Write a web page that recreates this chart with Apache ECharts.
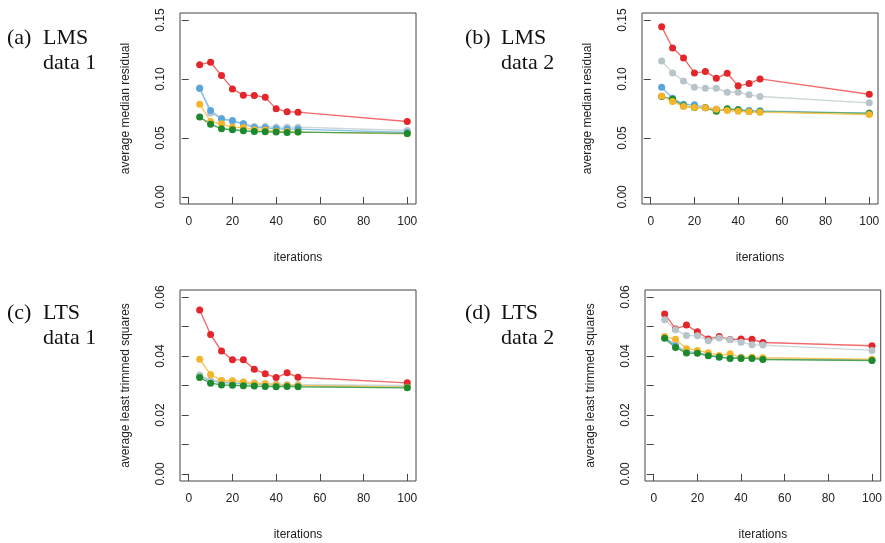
<!DOCTYPE html>
<html>
<head>
<meta charset="utf-8">
<script src="https://cdn.jsdelivr.net/npm/echarts@6/dist/echarts.min.js"></script>
<style>html,body{margin:0;padding:0;background:#fff}#c{width:885px;height:543px}</style>
</head>
<body>
<div id="c"></div>
<script>
var iterations = [5,10,15,20,25,30,35,40,45,50,100];

var lmsData1Red    = [0.1122,0.1142,0.1029,0.0916,0.0863,0.0860,0.0846,0.0747,0.0722,0.0719,0.0640];
var lmsData1Gray   = [0.0925,0.0711,0.0668,0.0640,0.0620,0.0598,0.0598,0.0592,0.0592,0.0592,0.0564];
var lmsData1Blue   = [0.0920,0.0733,0.0660,0.0648,0.0620,0.0589,0.0586,0.0578,0.0575,0.0575,0.0547];
var lmsData1Orange = [0.0787,0.0640,0.0620,0.0592,0.0589,0.0570,0.0567,0.0558,0.0555,0.0550,0.0536];
var lmsData1Green  = [0.0677,0.0617,0.0578,0.0570,0.0561,0.0555,0.0553,0.0550,0.0547,0.0550,0.0539];

var lmsData2Red    = [0.1444,0.1263,0.1179,0.1052,0.1063,0.1007,0.1049,0.0942,0.0961,0.1001,0.0871];
var lmsData2Gray   = [0.1153,0.1052,0.0984,0.0930,0.0922,0.0922,0.0888,0.0888,0.0866,0.0852,0.0798];
var lmsData2Blue   = [0.0930,0.0837,0.0787,0.0781,0.0758,0.0744,0.0739,0.0739,0.0733,0.0730,0.0711];
var lmsData2Green  = [0.0852,0.0829,0.0773,0.0758,0.0756,0.0727,0.0747,0.0739,0.0725,0.0722,0.0708];
var lmsData2Orange = [0.0857,0.0809,0.0767,0.0758,0.0756,0.0744,0.0733,0.0727,0.0722,0.0719,0.0699];

var ltsData1Red    = [0.0556,0.0473,0.0417,0.0387,0.0387,0.0355,0.0340,0.0327,0.0343,0.0328,0.0309];
var ltsData1Gray   = [0.0336,0.0318,0.0316,0.0314,0.0311,0.0309,0.0307,0.0305,0.0303,0.0303,0.0300];
var ltsData1Blue   = [0.0333,0.0316,0.0310,0.0308,0.0307,0.0305,0.0303,0.0301,0.0300,0.0300,0.0297];
var ltsData1Orange = [0.0389,0.0337,0.0317,0.0316,0.0312,0.0307,0.0305,0.0302,0.0301,0.0300,0.0294];
var ltsData1Green  = [0.0327,0.0308,0.0302,0.0301,0.0299,0.0298,0.0297,0.0296,0.0297,0.0296,0.0292];

var ltsData2Red    = [0.0543,0.0492,0.0505,0.0482,0.0458,0.0466,0.0456,0.0458,0.0457,0.0446,0.0435];
var ltsData2Gray   = [0.0523,0.0489,0.0470,0.0469,0.0452,0.0461,0.0455,0.0447,0.0438,0.0437,0.0419];
var ltsData2Blue   = [0.0464,0.0436,0.0414,0.0412,0.0403,0.0396,0.0393,0.0396,0.0394,0.0391,0.0386];
var ltsData2Orange = [0.0466,0.0457,0.0425,0.0419,0.0411,0.0402,0.0408,0.0394,0.0396,0.0394,0.0389];
var ltsData2Green  = [0.0460,0.0429,0.0410,0.0409,0.0401,0.0397,0.0392,0.0392,0.0392,0.0388,0.0385];

var xTicks = [0,20,40,60,80,100];
var lmsYTicks = [0,0.05,0.10,0.15];
var lmsYLabels = [0,0.05,0.10,0.15];
var ltsYTicks = [0,0.01,0.02,0.03,0.04,0.05,0.06];
var ltsYLabels = [0,0.02,0.04,0.06];

var panelLabels = ["(a)","(b)","(c)","(d)"];
var panelMethods = ["LMS","LMS","LTS","LTS"];
var panelData = ["data 1","data 2","data 1","data 2"];
var yTitles = ["average median residual","average median residual","average least trimmed squares","average least trimmed squares"];
var xTitle = "iterations";

var colors = {red:'#e3262a', gray:'#b7c4c9', blue:'#58a7dc', orange:'#f6b42a', green:'#1c8a2c'};
var lineColors = {red:'#f26b6e', gray:'#cdd6d9', blue:'#88c2e8', orange:'#f8c760', green:'#4fa65b'};

var panels = [
  {left:180, top:13, ymin:-0.006, ymax:0.156, ticks:lmsYTicks, labels:lmsYLabels,
   s:{gray:lmsData1Gray, blue:lmsData1Blue, red:lmsData1Red, orange:lmsData1Orange, green:lmsData1Green}},
  {left:642, top:13, ymin:-0.006, ymax:0.156, ticks:lmsYTicks, labels:lmsYLabels,
   s:{gray:lmsData2Gray, blue:lmsData2Blue, red:lmsData2Red, green:lmsData2Green, orange:lmsData2Orange}},
  {left:180, top:290, ymin:-0.0024, ymax:0.0624, ticks:ltsYTicks, labels:ltsYLabels,
   s:{blue:ltsData1Blue, gray:ltsData1Gray, red:ltsData1Red, orange:ltsData1Orange, green:ltsData1Green}},
  {left:645, top:290, ymin:-0.0024, ymax:0.0624, ticks:ltsYTicks, labels:ltsYLabels,
   s:{blue:ltsData2Blue, red:ltsData2Red, gray:ltsData2Gray, orange:ltsData2Orange, green:ltsData2Green}}
];

var grid = [], xAxis = [], yAxis = [], series = [], graphic = [];
var axisCol = '#444';
var serif = '22px "Liberation Serif"';
panels.forEach(function(p, i){
  grid.push({left:p.left, top:p.top, width:236, height:191, show:true, borderColor:axisCol, borderWidth:1, backgroundColor:'transparent', containLabel:false});
  xAxis.push({type:'value', gridIndex:i, min:-4, max:104,
    axisLine:{show:false}, splitLine:{show:false},
    axisTick:{show:true, length:7, customValues:xTicks, lineStyle:{color:axisCol}},
    axisLabel:{show:true, customValues:xTicks, margin:12, fontFamily:'Liberation Sans', fontSize:12, color:'#222'},
    name:xTitle, nameLocation:'middle', nameGap:48, nameTextStyle:{fontFamily:'Liberation Sans', fontSize:12, color:'#222'}});
  yAxis.push({type:'value', gridIndex:i, min:p.ymin, max:p.ymax,
    axisLine:{show:false}, splitLine:{show:false},
    axisTick:{show:true, length:7, customValues:p.ticks, lineStyle:{color:axisCol}},
    axisLabel:{show:true, customValues:p.labels, rotate:90, margin:13, fontFamily:'Liberation Sans', fontSize:12, color:'#222',
      formatter:function(v){return Number(v).toFixed(2);}},
    name:yTitles[i], nameLocation:'middle', nameRotate:90, nameGap:48, nameTextStyle:{fontFamily:'Liberation Sans', fontSize:12, color:'#222'}});
  Object.keys(p.s).forEach(function(k){
    var vals = p.s[k];
    series.push({type:'line', xAxisIndex:i, yAxisIndex:i, name:k,
      data: iterations.map(function(x, j){return [x, vals[j]];}),
      symbol:'circle', symbolSize:7, showSymbol:true, silent:true, animation:false,
      itemStyle:{color:colors[k], borderWidth:0},
      lineStyle:{color:lineColors[k], width:1.4}});
  });
  var tx = (i % 2 === 0) ? 7 : 465;
  var by = (i < 2) ? 45 : 320;
  graphic.push({type:'text', left:tx, top:by-18, style:{text:panelLabels[i], font:serif, fill:'#111'}});
  graphic.push({type:'text', left:tx+36, top:by-18, style:{text:panelMethods[i], font:serif, fill:'#111'}});
  graphic.push({type:'text', left:tx+36, top:by+7, style:{text:panelData[i], font:serif, fill:'#111'}});
});

var chart = echarts.init(document.getElementById('c'), null, {renderer:'canvas'});
chart.setOption({animation:false, grid:grid, xAxis:xAxis, yAxis:yAxis, series:series, graphic:graphic});
</script>
</body>
</html>
